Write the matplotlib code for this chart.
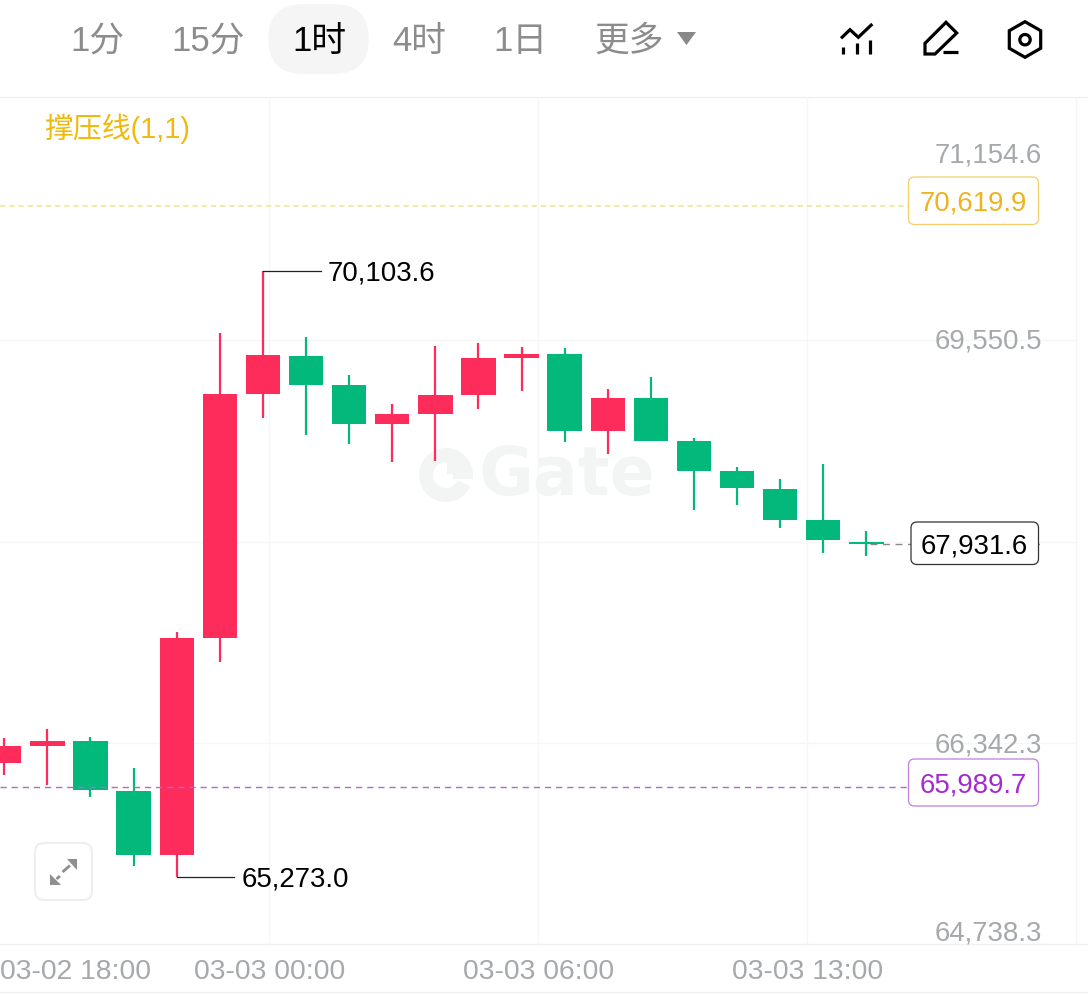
import matplotlib
matplotlib.use("Agg")
import matplotlib.pyplot as plt
from matplotlib.patches import FancyBboxPatch, Polygon, Circle, Wedge, Rectangle

plt.rcParams['font.family'] = ['Liberation Sans', 'Noto Sans CJK SC', 'DejaVu Sans']

# ---- data ----
opens = [66183.2, 66315.5, 66358.5, 65962.5, 65450.2, 67179.2, 69125.8, 69428.6, 69197.5, 68884.4, 68964.1,
         69117.8, 69407.1, 69442.1, 68831.0, 69091.5, 68751.3, 68512.3, 68368.9, 68121.8, 67945.0]
closes = [66315.5, 66358.5, 65968.1, 65450.2, 67179.2, 69125.8, 69436.6, 69197.5, 68884.4, 68964.1, 69112.3,
          69407.1, 69444.5, 68831.0, 69091.5, 68751.3, 68512.3, 68376.8, 68121.8, 67956.9, 67931.6]
highs = [66382.4, 66456.5, 66387.2, 66143.4, 67223.8, 69609.5, 70103.6, 69577.6, 69271.6, 69043.7, 69508.3,
         69529.8, 69497.9, 69486.8, 69160.1, 69255.7, 68775.2, 68544.1, 68448.5, 68568.0, 68034.2]
lows = [66084.4, 66010.3, 65909.1, 65359.3, 65273.0, 66984.8, 68932.2, 68799.1, 68727.4, 68578.4, 68586.4,
        69006.3, 69144.1, 68741.0, 68645.3, 68745.7, 68201.5, 68241.4, 68058.1, 67856.5, 67835.0]

y_levels = [71154.6, 69550.5, 67946.4, 66342.3, 64738.3]
y_labels = ['71,154.6', '69,550.5', '66,342.3', '64,738.3']
time_labels = ['03-02 18:00', '03-03 00:00', '03-03 06:00', '03-03 13:00']
tabs = ['1分', '15分', '1时', '4时', '1日', '更多']
resistance = 70619.9
support = 65989.7
last_price = 67931.6
high_mark = 70103.6
low_mark = 65273.0

RED = '#fe2c5b'
GREEN = '#03b87b'
GRID = '#f5f6f6'
GREY = '#a6a9ab'
TAB = '#8c8c8c'
YEL = '#f0b90b'
PUR = '#a42ad0'
FS = 19.9

W, H = 1088, 995
fig = plt.figure(figsize=(W / 100, H / 100), dpi=100, facecolor='white')


def full_axes(z):
    a = fig.add_axes([0, 0, 1, 1], zorder=z)
    a.set_xlim(0, W)
    a.set_ylim(H, 0)
    a.axis('off')
    a.patch.set_alpha(0)
    return a


ui = full_axes(1)
ax = fig.add_axes([0, (H - 945.7) / H, 1, (945 - 98) / H], zorder=2)
fg = full_axes(3)

ax.patch.set_alpha(0)
ax.axis('off')
SPACING = 43.1
X4 = 176.7


def px2idx(px):
    return 4 + (px - X4) / SPACING


ax.set_xlim(px2idx(0), px2idx(W))
ax.set_ylim(64735.5, 71484.3)

# ---- frame and grid ----
ui.plot([0, W], [98, 98], color='#eeeff0', lw=0.9)
ui.plot([0, W], [945, 945], color='#eeeff0', lw=0.9)
ui.plot([0, W], [993, 993], color='#eeeff0', lw=0.9)
for px in (269, 538, 807, 1076):
    ui.plot([px, px], [98, 945], color=GRID, lw=0.9)
for lv in y_levels[1:4]:
    ax.plot([px2idx(0), px2idx(1076)], [lv, lv], color=GRID, lw=0.9, zorder=1)

# ---- watermark ----
wm = '#f3f5f5'
ui.add_patch(Wedge((446, 476), 27, 25, 360, width=14, facecolor=wm, edgecolor='none'))
ui.add_patch(Rectangle((447, 462), 13, 13, facecolor=wm, edgecolor='none'))
ui.add_patch(Rectangle((453, 472), 20, 8, facecolor=wm, edgecolor='none'))
ui.text(479, 476, 'Gate', fontsize=48, fontweight='bold', color=wm, ha='left', va='center', family='DejaVu Sans')

# ---- candles ----
for i, (o, c, h, l) in enumerate(zip(opens, closes, highs, lows)):
    col = RED if c > o else GREEN
    ax.vlines(i, l, h, color=col, lw=1.6, zorder=3)
    ax.bar(i, abs(c - o), bottom=min(o, c), width=34.4 / SPACING, color=col, lw=0, zorder=4)

# ---- level lines ----
ax.plot([px2idx(0), px2idx(908)], [resistance] * 2, color='#ece58f', lw=1.1, ls=(0, (3.5, 2.5)), zorder=5)
ax.plot([px2idx(0), px2idx(908)], [support] * 2, color='#b565d6', lw=1.0, ls=(0, (4.5, 3.5)), zorder=5)
ax.plot([px2idx(870), px2idx(1042)], [last_price] * 2, color='#8a8a8a', lw=1.0, ls=(0, (5, 4)), zorder=5)

# ---- high / low marks ----
ax.plot([6, 6 + 58 / SPACING], [high_mark] * 2, color='#222222', lw=0.9, zorder=5)
ax.plot([4, 4 + 57 / SPACING], [low_mark] * 2, color='#222222', lw=0.9, zorder=5)
fg.text(328, 274, f'{high_mark:,.1f}', fontsize=FS, color='black', va='center', ha='left')
fg.text(242, 880, f'{low_mark:,.1f}', fontsize=FS, color='black', va='center', ha='left')

# ---- right axis labels ----
for lab, y in zip(y_labels, (155, 342, 745, 933)):
    fg.text(1042, y, lab, fontsize=FS, color=GREY, ha='right', va='center')


def box(x0, x1, y0, y1, edge, txt, col):
    fg.add_patch(FancyBboxPatch((x0 + 4, y0 + 4), x1 - x0 - 8, y1 - y0 - 8, boxstyle='round,pad=4,rounding_size=6',
                                facecolor='white', edgecolor=edge, lw=0.9))
    fg.text((x0 + x1) / 2, (y0 + y1) / 2 + 2, txt, fontsize=FS, color=col, ha='center', va='center')


box(908.5, 1038.5, 178, 225.5, '#f2cf6a', f'{resistance:,.1f}', '#eeb31d')
box(908.5, 1038.5, 760, 807, '#c07fe0', f'{support:,.1f}', PUR)
box(911, 1038.5, 523, 565.5, '#333333', f'{last_price:,.1f}', 'black')

# ---- time labels ----
for lab, px in zip(time_labels, (76, 269.5, 538.5, 807.5)):
    fg.text(px, 972, lab, fontsize=20.3, color=GREY, ha='center', va='center')

# ---- legend ----
fg.text(44, 129, '撑压线(1,1)', fontsize=20.8, color=YEL, ha='left', va='center')

# ---- header ----
ui.add_patch(FancyBboxPatch((303, 40), 31, 0.1, boxstyle='round,pad=34.8,rounding_size=34.8',
                            facecolor='#f5f5f5', edgecolor='none'))
for lab, px in zip(tabs, (97, 208, 319, 419, 520, 629)):
    sel = lab == '1时'
    fg.text(px, 41, lab, fontsize=25, color='black' if sel else TAB, ha='center', va='center',
            fontweight='medium' if sel else 'normal')
fg.add_patch(Polygon([(677, 33), (696, 33), (686.5, 46)], closed=True, facecolor='#888888', edgecolor='none'))

ICON = dict(color='black', lw=2.3, solid_capstyle='butt', solid_joinstyle='miter')
fg.plot([841, 850, 858.3, 872.3], [39.3, 30.7, 38.3, 25], **ICON)
for px, top in ((843.3, 48.3), (856.7, 44.3), (870, 40.7)):
    fg.plot([px, px], [top, 55], **ICON)
fg.add_patch(Polygon([(946, 23.3), (956.7, 34), (935, 55), (925, 55), (925, 44.3)], closed=True,
                     fill=False, edgecolor='black', lw=2.3))
fg.plot([943.3, 957.7], [53.3, 53.3], **ICON)
fg.add_patch(Polygon([(1025, 22.7), (1040.7, 31.7), (1040.7, 49.3), (1025, 58.3), (1009.3, 49.3), (1009.3, 31.7)],
                     closed=True, fill=False, edgecolor='black', lw=2.3))
fg.add_patch(Circle((1025, 40.7), 5.2, fill=False, edgecolor='black', lw=2.3))

# ---- fullscreen button ----
fg.add_patch(FancyBboxPatch((43, 852), 41, 41, boxstyle='round,pad=8,rounding_size=9',
                            facecolor='white', edgecolor='#eeeeee', lw=1.4))
IG = '#8f8f8f'
fg.add_patch(Polygon([(66.7, 859.5), (77.3, 859.5), (77.3, 870.5)], closed=True, facecolor=IG, edgecolor='none'))
fg.add_patch(Polygon([(50, 875), (50, 886), (61, 886)], closed=True, facecolor=IG, edgecolor='none'))
fg.plot([70, 62.5], [866.5, 873], color=IG, lw=2.0, solid_capstyle='butt')
fg.plot([56.5, 60], [880, 877], color=IG, lw=2.0, solid_capstyle='butt')

fig.savefig('out.png', dpi=100)
